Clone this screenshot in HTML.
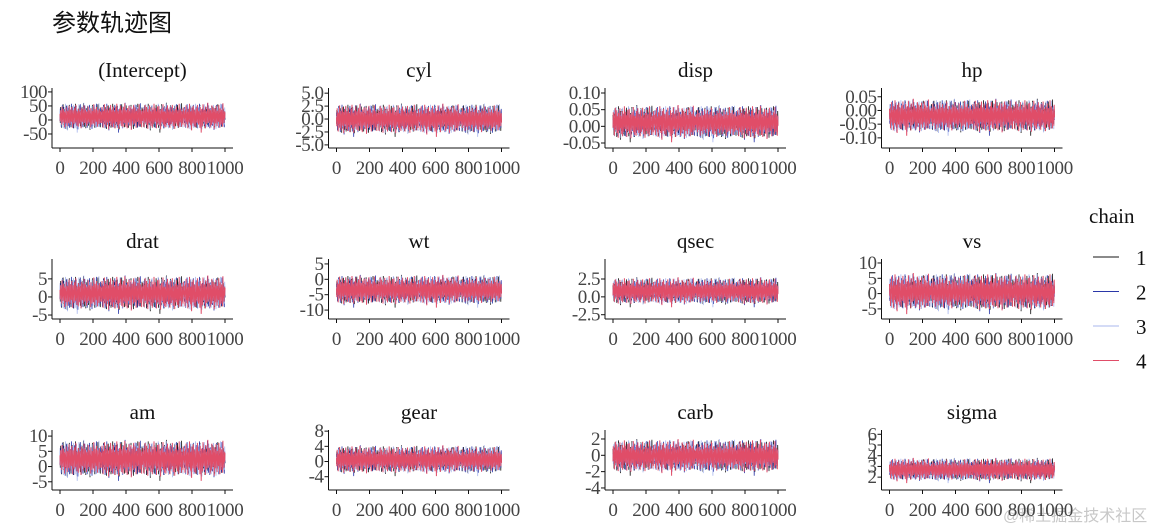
<!DOCTYPE html>
<html><head><meta charset="utf-8">
<style>
html,body{margin:0;padding:0;background:#fff;}
svg{display:block;}
text{font-family:"Liberation Serif","Noto Serif CJK SC",serif;}
</style></head>
<body>
<svg id="chart" width="1173" height="531" viewBox="0 0 1173 531">
<text x="52" y="31" font-size="24" fill="#111" style="font-family:'Liberation Sans','Noto Sans CJK SC',sans-serif">参数轨迹图</text>
<g>
<text x="1089" y="223" font-size="21" fill="#111">chain</text>
<g id="legend-items"></g>
</g>
<text x="1003" y="521" font-size="16" fill="#c8c8c8" style="font-family:'Liberation Sans','Noto Sans CJK SC',sans-serif">@稀土掘金技术社区</text>
<g id="panels"></g>
</svg>
<script>
const params = ["(Intercept)","cyl","disp","hp","drat","wt","qsec","vs","am","gear","carb","sigma"];
const centers = [12,0,0.012,-0.02,1,-3.5,0.8,0.5,2.5,0.5,-0.1,2.7];
const spreads = [19,1.15,0.02,0.024,1.9,1.9,0.75,2.4,2.4,1.45,0.8,0.42];
const yDomMin = [-100,-5.6,-0.065,-0.137,-6.1,-12.9,-3.1,-8.3,-7.7,-7.5,-4.25,0.8];
const yDomMax = [114,6.0,0.115,0.082,10.5,6.6,5.3,11.3,12,8.3,3.1,6.4];
const yTicks = [[-50,0,50,100],[-5,-2.5,0,2.5,5],[-0.05,0,0.05,0.1],[-0.1,-0.05,0,0.05],[-5,0,5],[-10,-5,0,5],[-2.5,0,2.5],[-5,0,5,10],[-5,0,5,10],[-4,0,4,8],[-4,-2,0,2],[2,3,4,5,6]];
const yTickLabels = [["-50","0","50","100"],["-5.0","-2.5","0.0","2.5","5.0"],["-0.05","0.00","0.05","0.10"],["-0.10","-0.05","0.00","0.05"],["-5","0","5"],["-10","-5","0","5"],["-2.5","0.0","2.5"],["-5","0","5","10"],["-5","0","5","10"],["-4","0","4","8"],["-4","-2","0","2"],["2","3","4","5","6"]];
const xTicks = [0,200,400,600,800,1000];
const xTickLabels = ["0","200","400","600","800","1000"];
const chainNames = ["1","2","3","4"];
const chain1 = [0.3,-1.2,1.8,-0.4,0.9,-2.1,1.1,0.2,-0.8,2.3,-1.5,0.6,-0.1,1.4,-1.9,0.8,-0.6,2.0,-1.1,0.4,1.2,-2.4,0.7,-0.3,1.6,-0.9,0.1,2.2,-1.7,0.5,-0.2,1.3,-2.0,0.9,-0.7,1.9,-1.3,0.3,1.0,-2.2,0.6,-0.5,1.7,-1.0,0.2,2.4,-1.6,0.8,-0.4,1.1,-2.3,0.5,-0.9,1.5,-1.4,0.1,2.1,-0.8,0.7,-1.8,1.3,-0.2,0.4,-2.0,1.8,-0.6,0.9,-1.2,2.5,-0.3,0.6,-1.9,1.2,-0.1,0.8,-2.2,1.6,-0.7,0.3,-1.1,2.0,-0.5,1.0,-1.7,0.4,-0.3,1.9,-2.5,0.7,-0.9,1.4,-0.2,0.5,-1.5,2.2,-0.8,0.2,-1.3,1.7,-0.4,0.9,-2.1,1.1,-0.6,0.3,-1.0,1.5,-0.1,0.6,-1.8,2.3,-0.7,0.8,-1.4,1.3,-0.3,0.4,-2.0,1.0,-0.5];
const chain2 = [-0.8,1.5,-0.3,0.7,-2.0,1.2,-0.6,2.2,-1.1,0.4,-0.2,1.8,-1.6,0.9,0.1,-2.3,1.4,-0.5,0.6,-1.2,2.1,-0.9,0.3,1.0,-1.8,0.5,-0.4,1.7,-2.1,0.8,-0.1,1.3,-1.4,2.4,-0.7,0.2,-1.0,1.6,-0.3,0.9,-2.2,1.1,-0.6,1.9,-1.3,0.4,0.0,2.0,-1.7,0.7,-0.8,1.2,-2.4,0.5,-0.2,1.5,-1.1,0.8,-0.5,2.3,-1.5,0.3,0.9,-1.9,1.0,-0.4,0.6,-2.0,1.7,-0.7,0.2,-1.2,2.1,-0.3,0.8,-1.6,1.3,-0.9,0.4,-2.1,1.8,-0.1,0.5,-1.4,0.9,-0.6,2.2,-1.0,0.3,-1.8,1.1,-0.2,0.7,-2.3,1.4,-0.5,0.1,-1.3,1.9,-0.8,0.6,-1.7,1.2,-0.3,0.4,-2.0,2.4,-0.9,0.8,-1.1,1.5,-0.4,0.2,-1.9,1.0,-0.7,0.5,-1.5,1.7,-0.2];
const chain3 = [1.1,-0.5,0.4,-1.9,1.3,-0.2,2.1,-1.0,0.6,-1.4,0.9,-2.2,1.5,-0.7,0.3,-1.1,2.4,-0.4,0.8,-1.6,1.0,-0.3,-2.6,1.7,-0.9,0.5,-1.3,2.0,-0.1,0.7,-1.8,1.2,-0.6,0.2,-2.0,1.6,-0.8,0.4,-1.2,2.2,-0.5,0.9,-1.5,1.1,-0.2,0.6,-2.1,1.8,-0.7,0.3,-3.0,1.4,-0.4,0.8,-1.7,2.3,-0.6,0.1,-1.0,1.3,-0.3,0.7,-2.2,1.9,-0.8,0.5,-1.4,1.0,-0.1,2.6,-1.2,0.4,-0.9,1.5,-0.5,0.8,-2.0,1.2,-0.2,0.6,-1.6,2.1,-0.7,0.3,-1.1,1.7,-0.4,0.9,-2.3,1.4,-0.6,0.2,-1.3,2.0,-0.3,0.7,-1.8,1.1,-0.8,0.5,-1.0,2.2,-0.1,0.4,-2.1,1.6,-0.5,0.9,-1.5,1.3,-0.2,0.6,-1.9,2.5,-0.7,0.3,-1.2,1.0,-0.4,0.8];
const chain4 = [0.5,-0.9,1.2,-0.3,0.7,-1.5,1.9,-0.6,0.2,-1.1,1.4,-0.4,0.8,-2.0,1.0,-0.2,0.6,-1.3,1.7,-0.7,0.3,-1.8,1.1,-0.1,0.9,-1.2,2.0,-0.5,0.4,-1.6,1.3,-0.8,0.1,-1.0,1.8,-0.3,0.7,-2.1,1.2,-0.6,0.5,-1.4,1.6,-0.2,0.8,-1.1,2.2,-0.7,0.3,-1.7,1.0,-0.4,0.6,-1.9,1.5,-0.1,0.9,-1.3,1.1,-0.5,0.2,-2.2,1.7,-0.8,0.4,-1.0,1.4,-0.3,0.7,-1.6,2.1,-0.6,0.1,-1.2,1.3,-0.2,0.8,-1.8,1.0,-0.7,0.5,-1.4,1.9,-0.4,0.3,-1.1,1.2,-0.9,0.6,-2.0,1.6,-0.1,0.4,-1.5,1.1,-0.6,0.9,-1.3,2.3,-0.3,0.2,-1.7,1.4,-0.5,0.7,-1.0,1.8,-0.8,0.3,-1.9,1.2,-0.2,0.6,-1.4,1.5,-0.4,0.8,-1.2,1.0,-0.6];
const chains = [chain1, chain2, chain3, chain4];
const colors = ["#151515","#2a37a8","#a9b7ee","#e04d68"];

const NS = "http://www.w3.org/2000/svg";
const panelsG = document.getElementById("panels");
function mk(tag, attrs, parent){const e=document.createElementNS(NS,tag);for(const k in attrs)e.setAttribute(k,attrs[k]);parent.appendChild(e);return e;}
const colStep = 276.5, rowStep = 171;
params.forEach((p, i) => {
  const col = i % 4, row = Math.floor(i / 4);
  const x0 = 60 + col*colStep, x1 = x0 + 165;
  const top = 88 + row*rowStep, bot = 148 + row*rowStep;
  const axL = x0 - 8;
  const xs = v => x0 + (v/1000)*(x1-x0);
  const ys = v => bot - (v - yDomMin[i])/(yDomMax[i]-yDomMin[i])*(bot-top);
  const g = mk("g", {}, panelsG);
  
  
  const t = mk("text", {x:(axL+x1+8)/2, y:top-11, "text-anchor":"middle", "font-size":"21", fill:"#111"}, g);
  
  
  t.textContent = p;
  chains.forEach((c0, ci) => {
    // combine draws from all chain arrays (rotated) for a denser trace
    const c = [];
    for (let r = 0; r < 4; r++) c.push(...chains[(ci + r + i) % 4]);
    const n = c.length;
    let d = "";
    c.forEach((v, k) => {
      const val = centers[i] + v*spreads[i];
      d += (k ? "L" : "M") + xs(k*1000/(n-1)).toFixed(1) + "," + ys(val).toFixed(1);
    });
    const path = mk("path", {d:d, fill:"none", stroke:colors[ci], "stroke-width": ci===3 ? "1" : "0.8"}, g);
    
    
  });
  mk("line", {x1:axL, y1:top, x2:axL, y2:bot, stroke:"#111", "stroke-width":"1"}, g);
  mk("line", {x1:axL, y1:bot, x2:x1+8, y2:bot, stroke:"#111", "stroke-width":"1"}, g);
  yTicks[i].forEach((v, k) => {
    const y = ys(v);
    mk("line", {x1:axL-4, y1:y, x2:axL, y2:y, stroke:"#111"}, g);
    const tl = mk("text", {x:axL-5, y:y+6, "text-anchor":"end", "font-size":"19", "letter-spacing":"-0.5", fill:"#444"}, g);
    
    
    tl.textContent = yTickLabels[i][k];
  });
  xTicks.forEach((v, k) => {
    const x = xs(v);
    mk("line", {x1:x, y1:bot, x2:x, y2:bot+4, stroke:"#111"}, g);
    const tl = mk("text", {x:x, y:bot+26, "text-anchor":"middle", "font-size":"19", "letter-spacing":"-0.3", fill:"#444"}, g);
    
    
    tl.textContent = xTickLabels[k];
  });
});
const lg = document.getElementById("legend-items");
chainNames.forEach((nm, ci) => {
  const y = 257 + ci*34.5;
  const g = mk("g", {}, lg);
  
  
  mk("line", {x1:1093, y1:y, x2:1119, y2:y, stroke:colors[ci], "stroke-width":"1"}, g);
  const t = mk("text", {x:1136, y:y+8, "font-size":"21", fill:"#111"}, g);
  t.textContent = nm;
});
</script>
</body></html>
